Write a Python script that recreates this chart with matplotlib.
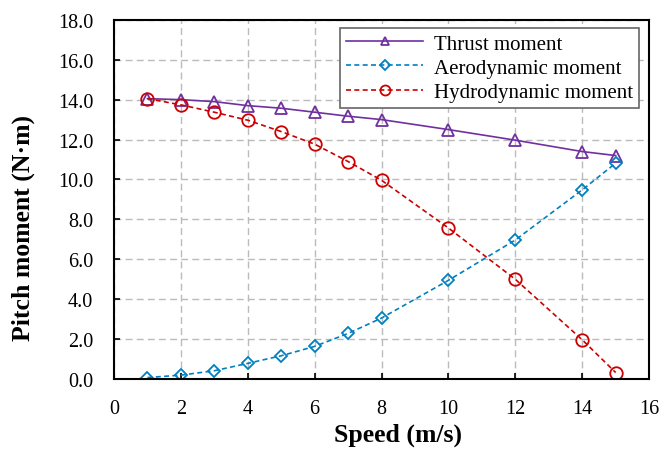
import numpy as np
import matplotlib.pyplot as plt

plt.rcParams["font.family"] = ["Liberation Serif", "DejaVu Serif"]

# data
speed = [1, 2, 3, 4, 5, 6, 7, 8, 10, 12, 14, 15]
thrust = [14.05, 14.0, 13.9, 13.7, 13.57, 13.37, 13.17, 13.0, 12.5, 11.97, 11.4, 11.2]
aero = [0.08, 0.2, 0.42, 0.79, 1.17, 1.64, 2.29, 3.06, 4.95, 6.97, 9.48, 10.82]
hydro = [14.05, 13.74, 13.37, 12.97, 12.4, 11.77, 10.9, 9.96, 7.57, 5.0, 1.97, 0.33]

x_ticks = list(range(0, 17, 2))
y_ticks = list(range(0, 19, 2))

fig = plt.figure(figsize=(6.59, 4.52), dpi=100)
ax = fig.add_axes([0.173, 0.159, 0.812, 0.795])

ax.plot(speed, thrust, color="#7030A0", lw=1.2, marker="^", ms=8, mfc="none",
        mew=1.3, label="Thrust moment")
ax.plot(speed, aero, color="#0080C0", lw=1.2, ls=(0, (3, 2)), marker="D", ms=6.5,
        mfc="none", mew=1.3, label="Aerodynamic moment")
ax.plot(speed, hydro, color="#CC0000", lw=1.2, ls=(0, (3, 2)), marker="o", ms=9,
        mfc="none", mew=1.3, label="Hydrodynamic moment")

ax.set_xlim(0, 16)
ax.set_ylim(0, 18)
ax.set_xticks(x_ticks)
ax.set_yticks(y_ticks)
ax.set_yticklabels([f"{v:.1f}" for v in y_ticks])
ax.grid(True, color="#BBBBBB", ls=(0, (5, 3)), lw=1.0)
ax.set_axisbelow(True)
ax.tick_params(direction="in", labelsize=14.5, length=4, width=1.2)
ax.tick_params(axis="x", pad=14)
ax.tick_params(axis="y", pad=15)
for s in ax.spines.values():
    s.set_linewidth(1.5)

ax.set_xlabel("Speed (m/s)", fontsize=18.5, fontweight="bold")
ax.set_ylabel("Pitch moment (N\u00b7m)", fontsize=18.5, fontweight="bold")
ax.xaxis.set_label_coords(0.531, -0.12)
ax.yaxis.set_label_coords(-0.148, 0.422)

leg = ax.legend(loc="upper right", bbox_to_anchor=(0.981, 0.978), borderaxespad=0,
                fontsize=15, fancybox=False, edgecolor="#666666", framealpha=1,
                handlelength=3.7, borderpad=0.3, labelspacing=0.22, handletextpad=0.5,
                markerscale=0.8)
leg.get_frame().set_linewidth(1.2)

fig.savefig("out.png", dpi=100)
